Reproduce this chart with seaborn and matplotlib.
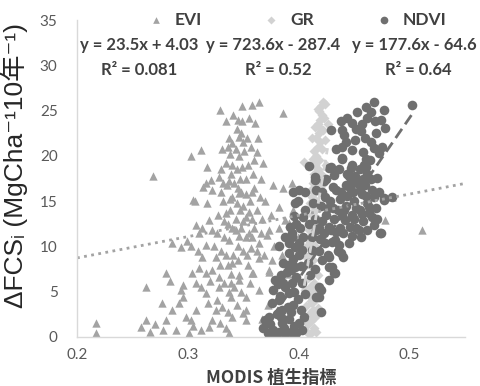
import matplotlib
matplotlib.use("Agg")
import matplotlib.pyplot as plt
import numpy as np
import pandas as pd
import seaborn as sns

# ---- data (MODIS index vs. delta FCS) ----
evi_pts = [
    (0.217, 1.5), (0.217, 0.4), (0.269, 17.8), (0.262, 5.5), (0.262, 1.9), (0.258, 1.1),
    (0.266, 0.6), (0.270, 1.4), (0.278, 0.8), (0.280, 1.9), (0.277, 3.7), (0.280, 7.1),
    (0.284, 6.2), (0.286, 3.0), (0.289, 0.8), (0.292, 3.7), (0.294, 5.2), (0.296, 4.4),
    (0.298, 2.2), (0.301, 0.4), (0.303, 1.9), (0.296, 5.7), (0.286, 10.4), (0.294, 9.9),
    (0.303, 10.1), (0.299, 10.6), (0.304, 7.1), (0.307, 6.0), (0.307, 3.0), (0.305, 1.2),
    (0.312, 0.8), (0.319, 1.1), (0.310, 7.6), (0.313, 8.8), (0.316, 10.2), (0.310, 11.5),
    (0.307, 12.4), (0.313, 12.0), (0.322, 11.8), (0.319, 12.9), (0.303, 20.0), (0.312, 20.6),
    (0.306, 15.0), (0.305, 15.1), (0.314, 16.6), (0.317, 14.8), (0.316, 17.0), (0.317, 18.8),
    (0.321, 17.3), (0.322, 16.2),
    (0.325, 3.0), (0.326, 4.1), (0.316, 4.9), (0.328, 5.5), (0.322, 7.4), (0.325, 8.8),
    (0.316, 7.1), (0.322, 1.9), (0.331, 3.3), (0.339, 4.4), (0.337, 0.4), (0.328, 6.6),
    (0.339, 6.0), (0.346, 6.9), (0.340, 8.2), (0.337, 10.7), (0.334, 13.7), (0.343, 11.8),
    (0.352, 13.3), (0.346, 15.9), (0.328, 17.7), (0.330, 18.5), (0.334, 19.2), (0.340, 21.4),
    (0.346, 22.1), (0.337, 22.0), (0.348, 22.5), (0.334, 23.8), (0.349, 23.8), (0.329, 25.1),
    (0.349, 25.5), (0.358, 25.6), (0.364, 25.9), (0.361, 23.6), (0.386, 24.7), (0.362, 20.4),
    (0.368, 19.2), (0.377, 16.8), (0.386, 16.5), (0.394, 17.0), (0.382, 14.4), (0.373, 11.8),
    (0.371, 11.3), (0.382, 12.0), (0.391, 12.6), (0.364, 10.4), (0.364, 8.7), (0.373, 7.4),
    (0.358, 7.1), (0.364, 5.2), (0.352, 4.4), (0.352, 3.0), (0.350, 2.6), (0.352, 1.9),
    (0.340, 2.2), (0.346, 6.3), (0.484, 15.5), (0.478, 12.9), (0.511, 11.8),
    (0.330, 9.5), (0.333, 11.0), (0.336, 12.5), (0.338, 14.0), (0.340, 15.5), (0.342, 17.0),
    (0.344, 18.5), (0.346, 20.0), (0.348, 16.0), (0.350, 14.5), (0.352, 17.5), (0.354, 19.0),
    (0.356, 15.0), (0.358, 13.0), (0.360, 16.5), (0.355, 11.5), (0.348, 12.0), (0.345, 10.0),
    (0.341, 9.0), (0.336, 8.0), (0.332, 15.0), (0.335, 16.8), (0.339, 18.0), (0.343, 13.0),
    (0.347, 14.0), (0.351, 20.5), (0.353, 22.0), (0.357, 21.0), (0.344, 23.0), (0.338, 20.2),
    (0.331, 20.8), (0.327, 13.5), (0.324, 10.0), (0.329, 8.0), (0.333, 6.0), (0.337, 5.0),
    (0.342, 5.5), (0.345, 8.5), (0.350, 9.5), (0.354, 8.0), (0.357, 9.8), (0.360, 12.0),
    (0.362, 14.0), (0.365, 15.5), (0.366, 17.5), (0.359, 18.0), (0.363, 22.0), (0.355, 24.2),
    (0.341, 24.5), (0.345, 16.5), (0.349, 18.8), (0.337, 17.2), (0.333, 12.8), (0.340, 12.0),
    (0.346, 11.2), (0.352, 11.0), (0.356, 6.0), (0.348, 5.0), (0.336, 2.8), (0.344, 3.5),
    (0.329, 1.5), (0.334, 1.0), (0.318, 3.8), (0.312, 5.5), (0.320, 6.2), (0.309, 9.5),
    (0.326, 11.5), (0.330, 16.0), (0.367, 13.0), (0.370, 15.0), (0.375, 13.5), (0.378, 10.0),
    (0.369, 9.0), (0.376, 8.5), (0.380, 6.5), (0.372, 3.5), (0.367, 2.0), (0.385, 9.0),
    (0.390, 7.0), (0.395, 14.0), (0.399, 11.0), (0.388, 12.9), (0.359, 7.1), (0.373, 7.2),
    (0.338, 15.2), (0.343, 20.8), (0.350, 21.5), (0.352, 15.8), (0.355, 13.8), (0.358, 16.0),
    (0.360, 19.5), (0.347, 17.5), (0.340, 19.0), (0.336, 21.0), (0.332, 17.0), (0.334, 9.0),
    (0.339, 7.0), (0.344, 14.8), (0.350, 12.8), (0.353, 9.0), (0.358, 11.0), (0.362, 9.5),
    (0.366, 11.5), (0.345, 24.0),
]

gr_pts = [
    (0.409, 0.3), (0.412, 0.6), (0.414, 1.0), (0.408, 1.4), (0.411, 1.8), (0.415, 2.2),
    (0.410, 2.6), (0.413, 3.0), (0.407, 3.4), (0.412, 3.8), (0.416, 4.2), (0.409, 4.6),
    (0.413, 5.0), (0.410, 5.5), (0.414, 6.0), (0.408, 6.5), (0.412, 7.0), (0.415, 7.5),
    (0.410, 8.0), (0.413, 8.5), (0.409, 9.0), (0.412, 9.5), (0.415, 10.0), (0.410, 10.5),
    (0.413, 11.0), (0.416, 11.5), (0.411, 12.0), (0.414, 12.5), (0.417, 13.0), (0.412, 13.5),
    (0.415, 14.0), (0.413, 14.5), (0.416, 15.0), (0.412, 15.5), (0.415, 16.0), (0.418, 16.5),
    (0.413, 17.0), (0.416, 17.5), (0.414, 18.0), (0.417, 18.5), (0.415, 19.0), (0.418, 19.5),
    (0.416, 20.0), (0.414, 20.5), (0.417, 21.0), (0.419, 21.5), (0.416, 22.0), (0.418, 22.5),
    (0.420, 23.0), (0.417, 23.5), (0.419, 24.0), (0.421, 24.5), (0.418, 25.0), (0.420, 25.5),
    (0.422, 26.0), (0.424, 25.7), (0.406, 0.8), (0.416, 0.5), (0.405, 2.0), (0.417, 3.2),
    (0.406, 5.2), (0.417, 6.8), (0.407, 8.8), (0.411, 4.0), (0.409, 11.8), (0.418, 14.2),
    (0.411, 16.2), (0.420, 18.0), (0.413, 19.6), (0.421, 20.8), (0.415, 23.2), (0.423, 24.2),
    (0.414, 2.8), (0.408, 10.2), (0.419, 12.2), (0.410, 14.8), (0.421, 16.8), (0.412, 22.0),
    (0.422, 22.8), (0.417, 25.2), (0.405, 19.3), (0.426, 23.5), (0.424, 21.8), (0.425, 19.0),
]

ndvi_pts = [
    (0.370, 1.9), (0.377, 0.8), (0.372, 0.4), (0.382, 0.5), (0.388, 0.3), (0.393, 0.6),
    (0.398, 0.4), (0.403, 0.8), (0.376, 3.7), (0.380, 2.5), (0.385, 1.5), (0.391, 2.0),
    (0.396, 1.2), (0.400, 1.5), (0.405, 2.2), (0.385, 3.0), (0.388, 5.5), (0.391, 4.9),
    (0.395, 3.5), (0.399, 4.2), (0.383, 4.5), (0.379, 6.3), (0.384, 6.8), (0.389, 7.2),
    (0.394, 6.0), (0.397, 7.7), (0.386, 8.2), (0.391, 9.3), (0.395, 8.6), (0.400, 9.0),
    (0.400, 10.4), (0.394, 11.0), (0.388, 11.0), (0.394, 11.5), (0.398, 12.5), (0.397, 14.8),
    (0.400, 16.2), (0.403, 6.0), (0.402, 3.0), (0.406, 4.8), (0.412, 9.6), (0.421, 8.5),
    (0.430, 7.7), (0.427, 6.3), (0.432, 7.1), (0.420, 5.2), (0.416, 4.4), (0.420, 2.8),
    (0.418, 4.4), (0.427, 8.8), (0.424, 10.4), (0.373, 2.2), (0.377, 5.2), (0.382, 4.1),
    (0.382, 10.0), (0.391, 10.4), (0.418, 5.5), (0.427, 7.7), (0.433, 7.1), (0.438, 9.3),
    (0.406, 14.0), (0.409, 12.5), (0.412, 11.0), (0.415, 13.0), (0.418, 12.0), (0.420, 14.5),
    (0.423, 11.5), (0.425, 13.5), (0.427, 12.2), (0.428, 15.0), (0.430, 10.5), (0.432, 13.0),
    (0.433, 10.7), (0.435, 14.0), (0.437, 12.0), (0.438, 16.0), (0.440, 11.5), (0.442, 12.9),
    (0.443, 14.5), (0.445, 10.4), (0.446, 16.5), (0.448, 13.5), (0.450, 15.0), (0.452, 12.0),
    (0.453, 17.0), (0.455, 14.0), (0.457, 15.8), (0.458, 12.8), (0.460, 16.8), (0.462, 14.8),
    (0.463, 13.7), (0.463, 14.4), (0.465, 17.5), (0.468, 12.4), (0.468, 15.5), (0.472, 16.0),
    (0.473, 11.5), (0.474, 11.5), (0.477, 15.4), (0.484, 15.5), (0.477, 15.1), (0.415, 17.3),
    (0.421, 16.0), (0.425, 17.5), (0.427, 18.7), (0.432, 17.9), (0.434, 16.2), (0.436, 18.5),
    (0.439, 19.6), (0.444, 18.0), (0.448, 19.0), (0.451, 17.8), (0.455, 18.6), (0.458, 17.5),
    (0.461, 18.8), (0.416, 16.2), (0.409, 18.9), (0.406, 16.0), (0.418, 9.5), (0.426, 9.0),
    (0.435, 9.5), (0.440, 8.8), (0.415, 7.5), (0.410, 6.8), (0.436, 10.2), (0.448, 11.2),
    (0.456, 11.0), (0.462, 11.8), (0.466, 13.2), (0.470, 14.2), (0.413, 14.8), (0.419, 10.8),
    (0.429, 11.8), (0.444, 15.6), (0.450, 13.0), (0.439, 13.5), (0.431, 14.2), (0.424, 15.5),
    (0.447, 17.2), (0.455, 16.2), (0.415, 17.7), (0.423, 17.2), (0.445, 17.8), (0.462, 18.0),
    (0.471, 17.6), (0.429, 18.8), (0.447, 18.7),
    (0.468, 26.0), (0.461, 25.4), (0.477, 25.1), (0.465, 24.8), (0.469, 23.8), (0.478, 23.1),
    (0.444, 24.2), (0.438, 23.9), (0.429, 22.9), (0.439, 22.9), (0.441, 22.3), (0.456, 22.7),
    (0.460, 22.0), (0.465, 21.5), (0.468, 20.9), (0.439, 21.0), (0.448, 20.7), (0.458, 20.4),
    (0.461, 19.6), (0.439, 19.8), (0.472, 20.3), (0.475, 21.0), (0.502, 25.6), (0.448, 23.6),
    (0.453, 24.8), (0.470, 22.5), (0.457, 23.5), (0.451, 21.8),
    (0.368, 1.0), (0.374, 1.4), (0.379, 0.3), (0.384, 2.2), (0.387, 1.0), (0.390, 3.3),
    (0.393, 2.8), (0.396, 5.0), (0.381, 5.8), (0.386, 6.0), (0.390, 8.0), (0.393, 7.4),
    (0.398, 6.6), (0.402, 7.8), (0.403, 9.6), (0.397, 9.9), (0.392, 12.2), (0.396, 13.4),
    (0.401, 12.0), (0.404, 11.0), (0.404, 13.2), (0.408, 8.2), (0.395, 16.0), (0.399, 15.0),
    (0.416, 11.8), (0.421, 12.8), (0.426, 14.2), (0.434, 11.6), (0.441, 14.0), (0.446, 12.2),
    (0.452, 14.2), (0.457, 13.6), (0.461, 15.6), (0.466, 16.2), (0.471, 13.0), (0.443, 16.8),
    (0.437, 15.2), (0.431, 16.6), (0.449, 16.0), (0.454, 11.8), (0.459, 19.0), (0.464, 19.5),
    (0.443, 21.5), (0.452, 23.0), (0.462, 24.2), (0.474, 24.0), (0.434, 20.8),
]

labels = ["EVI", "GR", "NDVI"]
fit_slope = [23.5, 723.6, 177.6]
fit_icpt = [4.03, -287.4, -64.6]
fit_r2 = ["0.081", "0.52", "0.64"]

x_ticks = [0.2, 0.3, 0.4, 0.5]
y_ticks = [0, 5, 10, 15, 20, 25, 30, 35]

colors = {"EVI": "#a3a3a3", "GR": "#d2d2d2", "NDVI": "#6f6f6f"}
markers = {"EVI": "^", "GR": "D", "NDVI": "o"}
sizes = {"EVI": 36, "GR": 26, "NDVI": 48}

frames = []
for name, pts in zip(labels, [evi_pts, gr_pts, ndvi_pts]):
    d = pd.DataFrame(pts, columns=["x", "y"])
    d["index"] = name
    frames.append(d)
df = pd.concat(frames, ignore_index=True)

sns.set_style("white")
plt.rcParams["font.family"] = ["Lato", "DejaVu Sans"]

fig = plt.figure(figsize=(4.81, 3.86), dpi=100)
ax = fig.add_axes([77 / 481, 49 / 386, 388 / 481, 317 / 386])

for name in labels:
    sub = df[df["index"] == name]
    sns.scatterplot(data=sub, x="x", y="y", marker=markers[name], color=colors[name],
                    s=sizes[name], linewidth=0, alpha=1, ax=ax, label=name)

# trendlines
line_styles = {"EVI": (0, (1, 1.6)), "GR": (0, (4, 2)), "NDVI": (0, (4, 2))}
for name, a, b in zip(labels, fit_slope, fit_icpt):
    sub = df[df["index"] == name]
    if name == "EVI":
        xs = np.array([0.2, 0.55])
    else:
        xs = np.array([sub["x"].min(), sub["x"].max()])
    ax.plot(xs, a * xs + b, color=colors[name], lw=2, linestyle=line_styles[name])

ax.set_xlim(0.2, 0.55)
ax.set_ylim(0, 35)
ax.set_xticks(x_ticks)
ax.set_xticklabels([f"{v:.1f}" for v in x_ticks])
ax.set_yticks(y_ticks)
ax.tick_params(axis="both", length=0, labelsize=11, colors="#595959")
ax.tick_params(axis="y", pad=14)
ax.tick_params(axis="x", pad=8)

for side in ["top", "right"]:
    ax.spines[side].set_visible(False)
for side in ["left", "bottom"]:
    ax.spines[side].set_color("#d9d9d9")
    ax.spines[side].set_linewidth(1)

ax.set_xlabel("MODIS 植生指標", fontsize=12.5, fontweight="bold", color="#404040",
              family=["Noto Sans CJK TC", "DejaVu Sans"], labelpad=5)
ax.set_ylabel("ΔFCSᵢ (MgCha⁻¹10年⁻¹)", fontsize=19, color="#262626",
              family=["Liberation Sans", "DejaVu Sans", "Noto Sans CJK TC"])
ax.yaxis.set_label_coords(-0.125, 0.54)

# equations
eq_x = [0.256, 0.377, 0.504]
r2_x = [0.256, 0.382, 0.508]
for i in range(3):
    sign = "+" if fit_icpt[i] >= 0 else "-"
    ax.text(eq_x[i], 32.2, f"y = {fit_slope[i]}x {sign} {abs(fit_icpt[i])}", ha="center", va="center",
            fontsize=12, fontweight="bold", color="#404040", clip_on=False)
    ax.text(r2_x[i], 29.5, f"R² = {fit_r2[i]}", ha="center", va="center",
            fontsize=12, fontweight="bold", color="#404040", clip_on=False)

leg = ax.legend(ncol=3, loc="center", bbox_to_anchor=(0.555, 1.0), frameon=False,
                handletextpad=0.1, columnspacing=3.0, markerscale=0.8,
                prop={"size": 12.5, "weight": "bold"})
for t in leg.get_texts():
    t.set_color("#404040")

fig.savefig("out.png", dpi=100)
